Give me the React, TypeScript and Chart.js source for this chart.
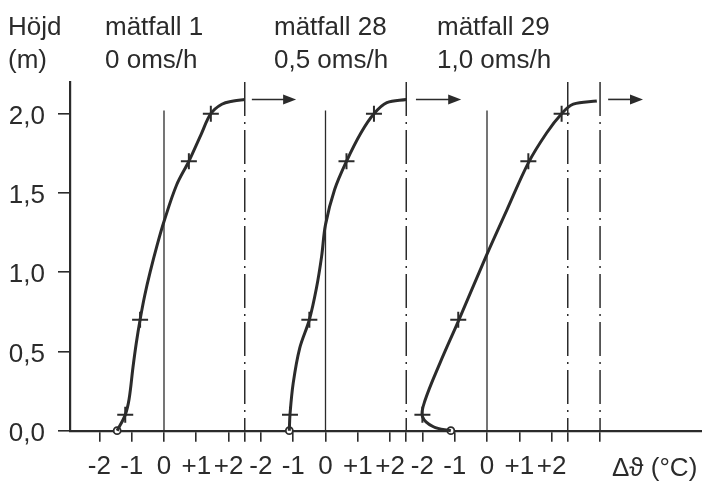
import React, { useEffect, useRef } from "react";
import { Chart, registerables } from "chart.js";
Chart.register(...registerables);

const FONT = "'Liberation Sans', Arimo, Arial, sans-serif";
const INK = "#2b2b2b";

// three measurement panels, each drawn on one shared ΔΘ axis, shifted by 5 °C
const panelOffsets = [0, 5, 10];
const panelTitles = ["mätfall 1", "mätfall 28", "mätfall 29"];
const panelRates = ["0 oms/h", "0,5 oms/h", "1,0 oms/h"];

const xTickValues = [-2, -1, 0, 1, 2, 3, 4, 5, 6, 7, 8, 9, 10, 11, 12];
const xPanelTickLabels = ["-2", "-1", "0", "+1", "+2"];
const dashDotX = [2.5, 7.5, 12.5, 13.5];
const yTickValues = [0, 0.5, 1.0, 1.5, 2.0];
const yTickLabels = ["0,0", "0,5", "1,0", "1,5", "2,0"];

// profile curves (panel-local ΔΘ in °C, height in m)
const curve1T = [-1.45, -1.2, -1.08, -0.96, -0.86, -0.74, -0.6, -0.43, -0.2, 0.0, 0.39, 0.77, 1.15, 1.45, 1.79, 2.15, 2.5];
const curve1H = [0.0, 0.1, 0.2, 0.4, 0.55, 0.7, 0.85, 1.0, 1.18, 1.32, 1.55, 1.7, 1.87, 2.0, 2.06, 2.08, 2.09];
const curve2T = [-1.12, -1.1, -1.0, -0.8, -0.5, -0.28, -0.12, 0.0, 0.28, 0.65, 1.1, 1.5, 1.9, 2.5];
const curve2H = [0.0, 0.1, 0.3, 0.52, 0.7, 0.9, 1.1, 1.3, 1.52, 1.7, 1.88, 2.0, 2.07, 2.09];
const curve3T = [-1.12, -1.66, -2.0, -1.92, -1.46, -0.89, -0.03, 0.61, 1.28, 1.85, 2.31, 2.67, 3.4];
const curve3H = [0.0, 0.025, 0.09, 0.19, 0.425, 0.69, 1.1, 1.39, 1.69, 1.88, 2.0, 2.06, 2.08];

// measured points ("+")
const markerHeights = [0.1, 0.7, 1.7, 2.0];
const markers1T = [-1.2, -0.74, 0.77, 1.45];
const markers2T = [-1.1, -0.5, 0.65, 1.5];
const markers3T = [-2.0, -0.89, 1.28, 2.31];
// floor points (circle)
const floorT = [-1.45, -1.12, -1.12];

// arrows at top of each panel
const arrowStartT = [2.72, 2.8, 3.75];
const arrowEndT = [4.09, 4.2, 4.83];
const arrowH = 2.09;

const zeroLineTop = 2.02;
const dashLineTop = 2.2;

const curvesT = [curve1T, curve2T, curve3T];
const curvesH = [curve1H, curve2H, curve3H];
const markersT = [markers1T, markers2T, markers3T];

const overlay = {
  id: "overlay",
  beforeDraw(chart: any) {
    const ctx = chart.ctx;
    ctx.save();
    ctx.fillStyle = "#ffffff";
    ctx.fillRect(0, 0, chart.width, chart.height);
    ctx.restore();
  },
  afterDraw(chart: any) {
    const ctx = chart.ctx;
    const xs = chart.scales.x;
    const ys = chart.scales.y;
    ctx.save();
    // arrows
    ctx.strokeStyle = INK;
    ctx.fillStyle = INK;
    ctx.lineWidth = 1.6;
    panelOffsets.forEach((off, i) => {
      const x0 = xs.getPixelForValue(off + arrowStartT[i]);
      const x1 = xs.getPixelForValue(off + arrowEndT[i]);
      const y = ys.getPixelForValue(arrowH);
      ctx.beginPath();
      ctx.moveTo(x0, y);
      ctx.lineTo(x1 - 10, y);
      ctx.stroke();
      ctx.beginPath();
      ctx.moveTo(x1, y);
      ctx.lineTo(x1 - 13, y - 5);
      ctx.lineTo(x1 - 13, y + 5);
      ctx.closePath();
      ctx.fill();
    });
    // texts
    ctx.fillStyle = INK;
    ctx.font = `26px ${FONT}`;
    ctx.textBaseline = "alphabetic";
    ctx.textAlign = "left";
    ctx.fillText("Höjd", 8, 35);
    ctx.fillText("(m)", 8, 68);
    const lefts = [105, 274, 437];
    panelTitles.forEach((t, i) => {
      ctx.fillText(t, lefts[i], 35);
      ctx.fillText(panelRates[i], lefts[i], 68);
    });
    ctx.fillText("Δϑ (°C)", 612, 476);
    ctx.restore();
  },
};

export default function App() {
  const ref = useRef<HTMLCanvasElement>(null);
  useEffect(() => {
    document.body.style.margin = "0";
    const datasets: any[] = [];
    curvesT.forEach((ct, i) => {
      datasets.push({
        type: "line",
        data: ct.map((t, k) => ({ x: t + panelOffsets[i], y: curvesH[i][k] })),
        borderColor: INK,
        borderWidth: 3,
        pointRadius: 0,
        tension: 0.35,
        fill: false,
        clip: false,
      });
    });
    markersT.forEach((mt, i) => {
      datasets.push({
        type: "scatter",
        data: mt.map((t, k) => ({ x: t + panelOffsets[i], y: markerHeights[k] })),
        pointStyle: "cross",
        pointRadius: 8,
        borderColor: INK,
        borderWidth: 2,
        showLine: false,
      });
    });
    datasets.push({
      type: "scatter",
      data: floorT.map((t, i) => ({ x: t + panelOffsets[i], y: 0 })),
      pointStyle: "circle",
      pointRadius: 3.5,
      borderColor: INK,
      backgroundColor: "#ffffff",
      borderWidth: 1.8,
      showLine: false,
      clip: false,
    });
    panelOffsets.forEach((off) => {
      datasets.push({
        type: "line",
        data: [{ x: off, y: 0 }, { x: off, y: zeroLineTop }],
        borderColor: INK,
        borderWidth: 1.3,
        pointRadius: 0,
      });
    });
    dashDotX.forEach((dx) => {
      datasets.push({
        type: "line",
        data: [{ x: dx, y: dashLineTop }, { x: dx, y: 0 }],
        borderColor: INK,
        borderWidth: 1.5,
        borderDash: [34, 6, 2, 6],
        pointRadius: 0,
      });
    });

    const chart = new Chart(ref.current!, {
      type: "scatter",
      data: { datasets },
      options: {
        animation: false,
        responsive: false,
        devicePixelRatio: 1,
        layout: { autoPadding: false, padding: { top: 82, left: 0, right: 0, bottom: 0 } },
        plugins: { legend: { display: false }, tooltip: { enabled: false }, title: { display: false } },
        scales: {
          x: {
            type: "linear",
            min: -2.91,
            max: 16.656,
            afterBuildTicks: (s: any) => {
              s.ticks = [...xTickValues, ...dashDotX].sort((a, b) => a - b).map((v) => ({ value: v }));
            },
            afterFit: (s: any) => {
              s.height = 52.3;
            },
            ticks: {
              autoSkip: false,
              maxRotation: 0,
              minRotation: 0,
              padding: 10,
              color: INK,
              font: { family: FONT, size: 26 },
              callback: (v: any) => {
                if (dashDotX.includes(v)) return "";
                return xPanelTickLabels[(((v + 2) % 5) + 5) % 5];
              },
            },
            grid: { drawOnChartArea: false, drawTicks: true, tickLength: 11, color: INK, lineWidth: 1.6 },
            border: { display: true, color: INK, width: 2.2 },
          },
          y: {
            type: "linear",
            min: 0,
            max: 2.2,
            afterBuildTicks: (s: any) => {
              s.ticks = yTickValues.map((v) => ({ value: v }));
            },
            afterFit: (s: any) => {
              s.width = 70;
            },
            ticks: {
              padding: 13,
              labelOffset: 3,
              color: INK,
              font: { family: FONT, size: 26 },
              callback: (v: any) => yTickLabels[yTickValues.indexOf(v)],
            },
            grid: { drawOnChartArea: false, drawTicks: true, tickLength: 12, color: INK, lineWidth: 1.6 },
            border: { display: true, color: INK, width: 2.2 },
          },
        },
      },
      plugins: [overlay],
    } as any);
    return () => chart.destroy();
  }, []);
  return (
    <div style={{ width: 702, height: 483 }}>
      <canvas ref={ref} width={702} height={483} />
    </div>
  );
}
